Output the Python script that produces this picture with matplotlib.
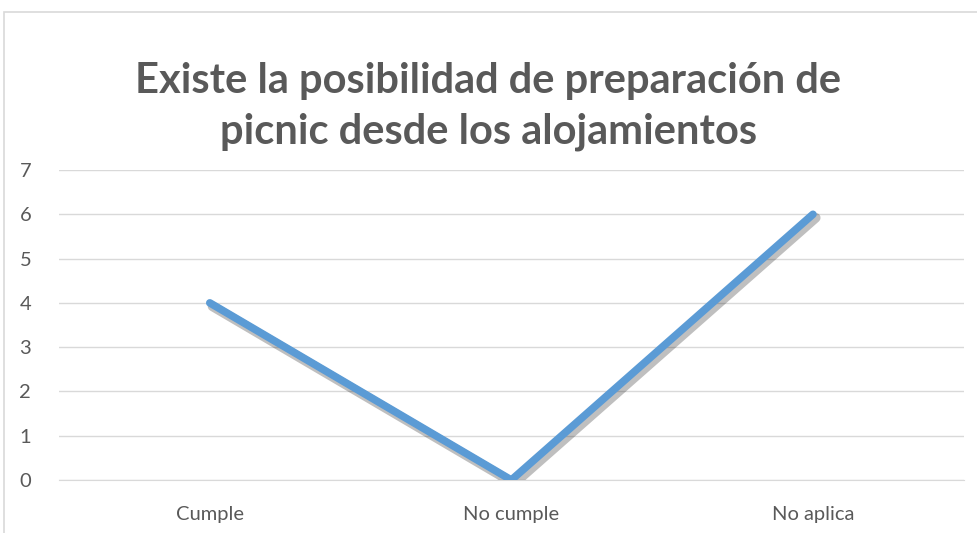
import matplotlib.pyplot as plt
import matplotlib.patheffects as pe
from matplotlib.patches import Rectangle

categories = ["Cumple", "No cumple", "No aplica"]
values = [4, 0, 6]
title = "Existe la posibilidad de preparación de\npicnic desde los alojamientos"

plt.rcParams['font.family'] = ['Lato', 'DejaVu Sans']

fig = plt.figure(figsize=(9.77, 5.33), dpi=100)
ax = fig.add_axes([0.0604, 0.0994, 0.926, 0.5816])

x = [i + 0.5 for i in range(len(categories))]
ax.plot(x, values, color="#5B9BD5", linewidth=5.5, solid_capstyle="round",
        solid_joinstyle="round", zorder=3,
        path_effects=[pe.SimpleLineShadow(offset=(2, -2.5), alpha=0.25, shadow_color="black",
                                          linewidth=7),
                      pe.Normal()])

ax.set_xlim(0, 3)
ax.set_ylim(0, 7)
ax.set_yticks(range(8))
ax.set_xticks(x)
ax.set_xticklabels(categories)
ax.grid(axis="y", color="#D9D9D9", linewidth=1)
ax.set_axisbelow(True)
for s in ax.spines.values():
    s.set_visible(False)
ax.spines["bottom"].set_visible(True)
ax.spines["bottom"].set_color("#D9D9D9")
ax.tick_params(length=0, labelsize=14.5, labelcolor="#595959")
ax.tick_params(axis="y", pad=20)
ax.tick_params(axis="x", pad=19)

fig.text(0.5, 0.8, title, ha="center", va="center", fontsize=30,
         fontweight="bold", color="#595959", linespacing=1.4)

# chart border (left and top edges visible)
fig.add_artist(Rectangle((4 / 977, -0.1), 1.2, (533 - 12) / 533 + 0.1,
                         transform=fig.transFigure, fill=False,
                         edgecolor="#D9D9D9", linewidth=1.2))

fig.savefig("out.png", dpi=100)
